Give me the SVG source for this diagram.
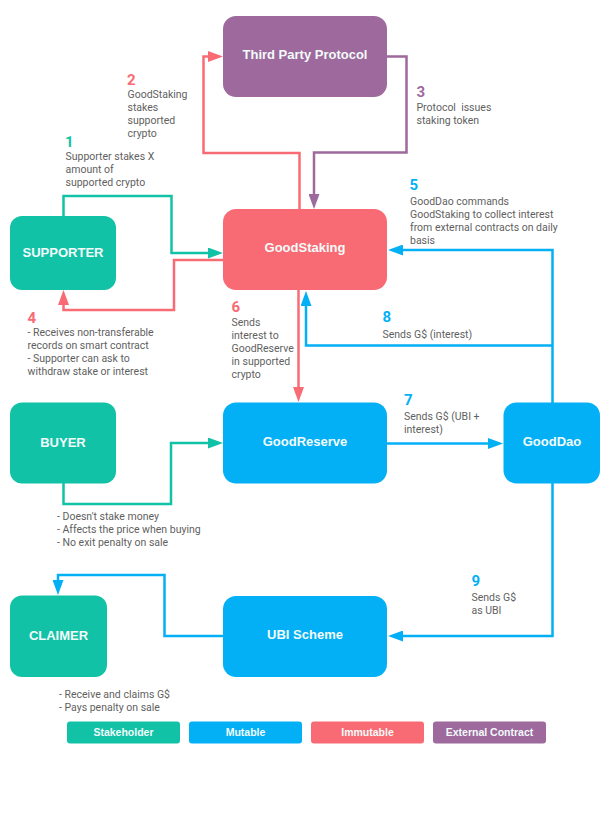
<svg xmlns="http://www.w3.org/2000/svg" width="610" height="823" viewBox="0 0 610 823">
<style>
.teal{fill:#12C2A7}.blue{fill:#03B0F6}.red{fill:#F96B74}.purple{fill:#9E699C}
.lbl{font-family:"Liberation Sans",Arial,sans-serif;font-weight:bold;font-size:13px;fill:#F2FBFA;text-anchor:middle}
.leg{font-family:"Liberation Sans",Arial,sans-serif;font-weight:bold;font-size:10.5px;fill:#F2FBFA;text-anchor:middle}
.note{font-family:Roboto,"Liberation Sans",sans-serif;font-size:10.5px;fill:#5f5f5f}
.num{font-family:Roboto,"Liberation Sans",sans-serif;font-weight:bold;font-size:15px}
.c{fill:none;stroke-width:2.5}
.ct{stroke:#12C2A7}.cb{stroke:#03B0F6}.cr{stroke:#F96B74}.cp{stroke:#9E699C}
</style>
<defs>
<marker id="aT" markerUnits="userSpaceOnUse" markerWidth="15" markerHeight="11" refX="0" refY="5.5" orient="auto"><path d="M0,0 L15,5.5 L0,11 z" fill="#12C2A7"/></marker>
<marker id="aB" markerUnits="userSpaceOnUse" markerWidth="15" markerHeight="11" refX="0" refY="5.5" orient="auto"><path d="M0,0 L15,5.5 L0,11 z" fill="#03B0F6"/></marker>
<marker id="aR" markerUnits="userSpaceOnUse" markerWidth="15" markerHeight="11" refX="0" refY="5.5" orient="auto"><path d="M0,0 L15,5.5 L0,11 z" fill="#F96B74"/></marker>
<marker id="aP" markerUnits="userSpaceOnUse" markerWidth="15" markerHeight="11" refX="0" refY="5.5" orient="auto"><path d="M0,0 L15,5.5 L0,11 z" fill="#9E699C"/></marker>
</defs>
<rect width="610" height="823" fill="#fff"/>
<g id="connectors">
<path class="c cr" d="M299.5,209 V153 H203.5 V56.5 H208" marker-end="url(#aR)"/>
<path class="c cp" d="M387,56.5 H406.5 V152.5 H314 V194" marker-end="url(#aP)"/>
<path class="c ct" d="M63.5,216 V196 H171.5 V253 H208" marker-end="url(#aT)"/>
<path class="c cr" d="M223,260 H174 V310 H63.5 V305" marker-end="url(#aR)"/>
<path class="c cb" d="M552.5,403 V250 H403" marker-end="url(#aB)"/>
<path class="c cb" d="M552.5,345.5 H306 V306" marker-end="url(#aB)"/>
<path class="c cr" d="M298.5,290 V387" marker-end="url(#aR)"/>
<path class="c cb" d="M387,443.5 H488" marker-end="url(#aB)"/>
<path class="c cb" d="M552.5,483 V636 H403" marker-end="url(#aB)"/>
<path class="c cb" d="M223,636 H164.5 V575 H58 V580" marker-end="url(#aB)"/>
<path class="c ct" d="M63.5,483 V504 H171 V443 H208" marker-end="url(#aT)"/>
</g>
<g id="third-party"><rect class="purple" x="223" y="16" width="164" height="81" rx="13"/><text class="lbl" x="305" y="58.5">Third Party Protocol</text></g>
<g id="goodstaking"><rect class="red" x="223" y="209" width="164" height="81" rx="13"/><text class="lbl" x="305" y="252">GoodStaking</text></g>
<g id="supporter"><rect class="teal" x="10" y="216" width="106" height="74" rx="12"/><text class="lbl" x="63" y="256.5">SUPPORTER</text></g>
<g id="buyer"><rect class="teal" x="10" y="402.5" width="106" height="81" rx="12"/><text class="lbl" x="63" y="447">BUYER</text></g>
<g id="goodreserve"><rect class="blue" x="223" y="402.5" width="164" height="81" rx="13"/><text class="lbl" x="305" y="445.5">GoodReserve</text></g>
<g id="gooddao"><rect class="blue" x="503.5" y="402.5" width="96.5" height="81" rx="13"/><text class="lbl" x="552" y="445.5">GoodDao</text></g>
<g id="claimer"><rect class="teal" x="10" y="595.5" width="97" height="81.5" rx="12"/><text class="lbl" x="58.5" y="639.5">CLAIMER</text></g>
<g id="ubi"><rect class="blue" x="223" y="596" width="164" height="81" rx="13"/><text class="lbl" x="305" y="639">UBI Scheme</text></g>
<g id="legend">
<rect class="teal" x="67" y="721.5" width="113" height="22" rx="3"/><text class="leg" x="123.5" y="736">Stakeholder</text>
<rect class="blue" x="189" y="721.5" width="113" height="22" rx="3"/><text class="leg" x="245.5" y="736">Mutable</text>
<rect class="red" x="311" y="721.5" width="113" height="22" rx="3"/><text class="leg" x="367.5" y="736">Immutable</text>
<rect class="purple" x="433" y="721.5" width="113" height="22" rx="3"/><text class="leg" x="489.5" y="736">External Contract</text>
</g>
<g id="labels">
<text class="num teal" x="65" y="147">1</text>
<text class="note" x="65.5"><tspan x="65.5" y="159.5">Supporter stakes X</tspan><tspan x="65.5" y="172.5">amount of</tspan><tspan x="65.5" y="185.5">supported crypto</tspan></text>
<text class="num red" x="127" y="84.5">2</text>
<text class="note"><tspan x="127.5" y="98">GoodStaking</tspan><tspan x="127.5" y="111">stakes</tspan><tspan x="127.5" y="124">supported</tspan><tspan x="127.5" y="137">crypto</tspan></text>
<text class="num purple" x="416.5" y="97">3</text>
<text class="note" xml:space="preserve"><tspan x="416.5" y="111">Protocol  issues</tspan><tspan x="416.5" y="124">staking token</tspan></text>
<text class="num red" x="27.5" y="323">4</text>
<text class="note"><tspan x="27.5" y="336">- Receives non-transferable</tspan><tspan x="27.5" y="349">records on smart contract</tspan><tspan x="27.5" y="362">- Supporter can ask to</tspan><tspan x="27.5" y="375">withdraw stake or interest</tspan></text>
<text class="num blue" x="409.5" y="190">5</text>
<text class="note"><tspan x="410" y="204.5">GoodDao commands</tspan><tspan x="410" y="217.5">GoodStaking to collect interest</tspan><tspan x="410" y="230.5">from external contracts on daily</tspan><tspan x="410" y="243.5">basis</tspan></text>
<text class="num red" x="231.5" y="312">6</text>
<text class="note"><tspan x="231.5" y="326">Sends</tspan><tspan x="231.5" y="339">interest to</tspan><tspan x="231.5" y="352">GoodReserve</tspan><tspan x="231.5" y="365">in supported</tspan><tspan x="231.5" y="378">crypto</tspan></text>
<text class="num blue" x="382.5" y="322">8</text>
<text class="note" x="382.5" y="337.5">Sends G$ (interest)</text>
<text class="num blue" x="404" y="405">7</text>
<text class="note"><tspan x="404" y="420">Sends G$ (UBI +</tspan><tspan x="404" y="432.5">interest)</tspan></text>
<text class="num blue" x="471.5" y="586">9</text>
<text class="note"><tspan x="471.5" y="601">Sends G$</tspan><tspan x="471.5" y="613.5">as UBI</tspan></text>
<text class="note"><tspan x="57" y="520">- Doesn't stake money</tspan><tspan x="57" y="533">- Affects the price when buying</tspan><tspan x="57" y="546">- No exit penalty on sale</tspan></text>
<text class="note"><tspan x="59" y="698">- Receive and claims G$</tspan><tspan x="59" y="710.5">- Pays penalty on sale</tspan></text>
</g>
</svg>
